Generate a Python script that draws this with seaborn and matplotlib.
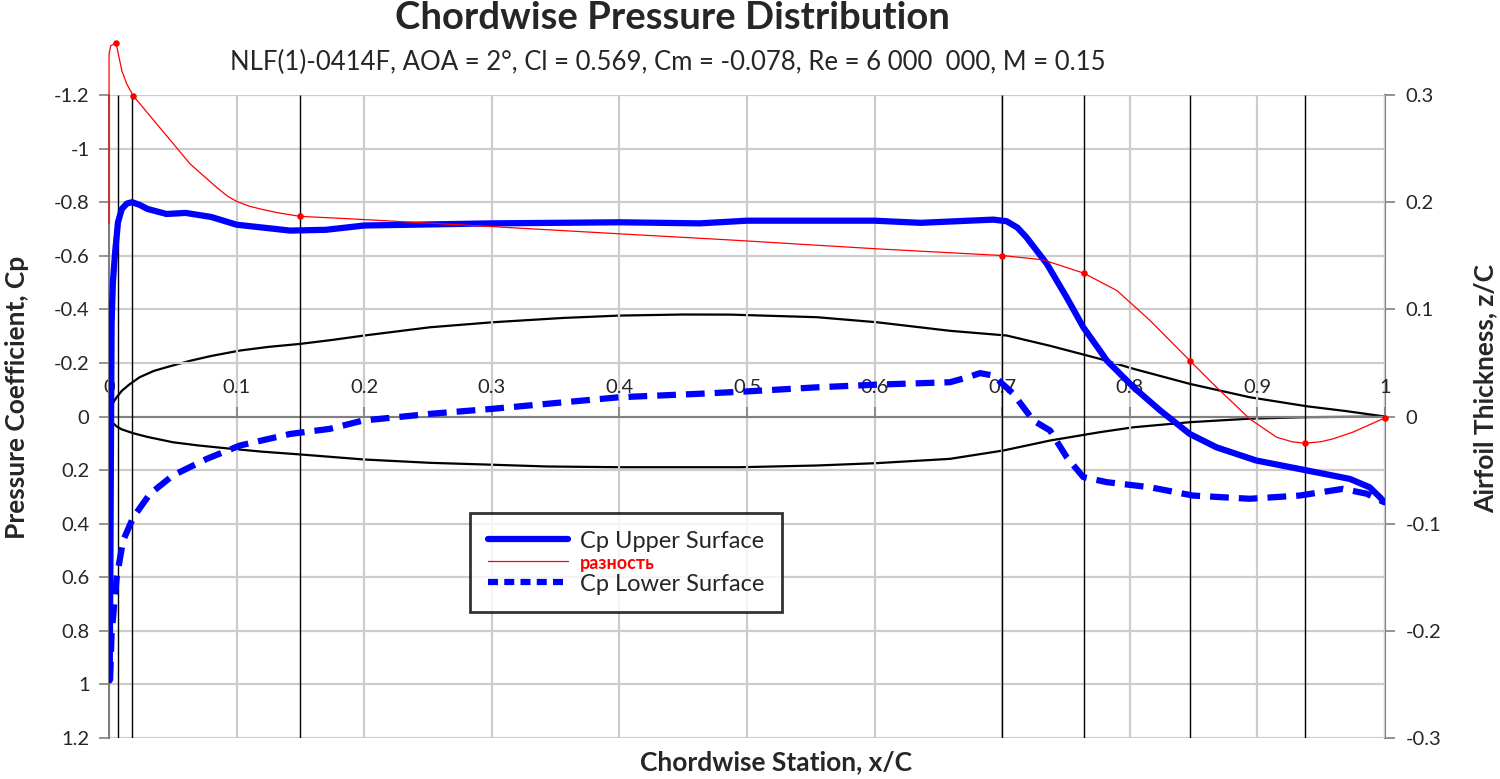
import numpy as np
import pandas as pd
import matplotlib
matplotlib.use("Agg")
import matplotlib.pyplot as plt
import seaborn as sns
from matplotlib.lines import Line2D
from matplotlib.ticker import MultipleLocator, FormatStrFormatter

# values
x_up = [0.0005, 0.001, 0.0015, 0.002, 0.003, 0.0047, 0.007, 0.01, 0.014, 0.018, 0.024, 0.03, 0.045,
        0.06, 0.08, 0.1, 0.142, 0.17, 0.2, 0.3, 0.4, 0.463, 0.5, 0.6, 0.636, 0.693, 0.7035, 0.712,
        0.719, 0.735, 0.7505, 0.7636, 0.7766, 0.782, 0.803, 0.824, 0.847, 0.868, 0.899, 0.9386,
        0.9726, 0.988, 0.996, 0.9995]
cp_up = [0.985, 0.6, 0.1, -0.35, -0.5, -0.61, -0.725, -0.775, -0.795, -0.80, -0.79, -0.775, -0.756,
         -0.76, -0.745, -0.716, -0.694, -0.697, -0.713, -0.721, -0.725, -0.721, -0.731, -0.731,
         -0.723, -0.735, -0.729, -0.705, -0.669, -0.57, -0.445, -0.333, -0.246, -0.209, -0.109,
         -0.022, 0.065, 0.115, 0.164, 0.201, 0.233, 0.264, 0.301, 0.32]

x_lo = [0.0008, 0.002, 0.006, 0.011, 0.019, 0.032, 0.05, 0.0766, 0.1027, 0.142, 0.173, 0.199, 0.2516,
        0.301, 0.356, 0.4, 0.463, 0.501, 0.5546, 0.6016, 0.659, 0.672, 0.6826, 0.693, 0.7087, 0.7244,
        0.7375, 0.7506, 0.7636, 0.782, 0.816, 0.8495, 0.894, 0.933, 0.967, 0.9856, 0.9995]
cp_lo = [0.985, 0.81, 0.60, 0.463, 0.376, 0.289, 0.22, 0.158, 0.108, 0.065, 0.046, 0.015, -0.01,
         -0.029, -0.053, -0.072, -0.085, -0.094, -0.109, -0.119, -0.128, -0.145, -0.162, -0.153,
         -0.085, 0.015, 0.052, 0.152, 0.226, 0.245, 0.264, 0.295, 0.307, 0.295, 0.27, 0.288, 0.32]

x_diff = [0.0, 0.0, 0.0013, 0.0055, 0.01, 0.0139, 0.019, 0.0374, 0.0504, 0.0635, 0.0844, 0.093, 0.1,
          0.11, 0.121, 0.133, 0.15, 0.189, 0.3, 0.4, 0.487, 0.6016, 0.70, 0.732, 0.764, 0.79, 0.816,
          0.847, 0.868, 0.88, 0.894, 0.915, 0.927, 0.937, 0.95, 0.9595, 0.975, 1.0]
cp_diff = [-0.719, -1.353, -1.384, -1.394, -1.291, -1.241, -1.197, -1.092, -1.018, -0.943, -0.855,
           -0.822, -0.803, -0.785, -0.772, -0.760, -0.747, -0.738, -0.709, -0.682, -0.659, -0.626,
           -0.601, -0.585, -0.535, -0.47, -0.358, -0.209, -0.109, -0.055, 0.0087, 0.077, 0.094, 0.0995,
           0.094, 0.083, 0.058, 0.005]
x_diff_pts = [0.0055, 0.019, 0.15, 0.70, 0.764, 0.847, 0.937, 1.0]
cp_diff_pts = [-1.394, -1.197, -0.747, -0.601, -0.535, -0.209, 0.0995, 0.005]
x_drop = [0.0073, 0.018, 0.15, 0.70, 0.764, 0.847, 0.937]

x_af_up = [0.0, 0.0005, 0.002, 0.004, 0.006, 0.01, 0.016, 0.024, 0.035, 0.045, 0.0635, 0.08, 0.1027,
           0.125, 0.15, 0.175, 0.2, 0.2516, 0.301, 0.356, 0.4, 0.45, 0.487, 0.5546, 0.6016, 0.659,
           0.7035, 0.7375, 0.7766, 0.803, 0.847, 0.894, 0.9386, 0.97, 1.0]
z_af_up = [0.0, 0.005, 0.010, 0.0145, 0.018, 0.024, 0.030, 0.0367, 0.0425, 0.046, 0.052, 0.0565,
           0.0616, 0.065, 0.0678, 0.0715, 0.0756, 0.0833, 0.088, 0.092, 0.0942, 0.0952, 0.0951,
           0.0927, 0.088, 0.080, 0.0756, 0.066, 0.0538, 0.0445, 0.0305, 0.018, 0.0096, 0.005, 0.0]
x_af_lo = [0.0, 0.002, 0.006, 0.01, 0.019, 0.03, 0.05, 0.07, 0.095, 0.12, 0.15, 0.2, 0.2516, 0.301,
           0.343, 0.4, 0.4945, 0.5546, 0.6016, 0.659, 0.7009, 0.7375, 0.7766, 0.803, 0.847, 0.894,
           0.9386, 1.0]
z_af_lo = [0.0, -0.005, -0.0093, -0.012, -0.0156, -0.019, -0.024, -0.027, -0.030, -0.0328, -0.0354,
           -0.0401, -0.0432, -0.045, -0.0466, -0.0473, -0.0473, -0.0457, -0.0435, -0.0395, -0.0317,
           -0.0224, -0.0146, -0.01, -0.0053, -0.002, -0.0006, 0.0]

sns.set_style("white")
fonts = ["Lato", "Open Sans", "DejaVu Sans"]
plt.rcParams["font.family"] = fonts
plt.rcParams["axes.unicode_minus"] = False

fig = plt.figure(figsize=(15, 7.79), dpi=100)
ax = fig.add_axes([0.0727, 0.0526, 0.8506, 0.8254])
ax2 = ax.twinx()

blue = "#0000ff"
red = "#ff0000"

sns.lineplot(x=x_up, y=cp_up, ax=ax, color=blue, lw=4.5, sort=False, estimator=None, zorder=5)
sns.lineplot(x=x_lo, y=cp_lo, ax=ax, color=blue, lw=4.5, sort=False, estimator=None, zorder=5,
             dashes=False, linestyle=(0, (3.0, 1.6)))
sns.lineplot(x=x_diff, y=cp_diff, ax=ax, color=red, lw=0.9, sort=False, estimator=None, zorder=6,
             clip_on=False)
sns.scatterplot(x=x_diff_pts, y=cp_diff_pts, ax=ax, color=red, s=22, linewidth=0, zorder=7,
                clip_on=False)
ax.vlines(x_drop, -1.2, 1.2, color="black", lw=1, zorder=3)

sns.lineplot(x=x_af_up, y=z_af_up, ax=ax2, color="black", lw=1.6, sort=False, estimator=None)
sns.lineplot(x=x_af_lo, y=z_af_lo, ax=ax2, color="black", lw=1.6, sort=False, estimator=None)

# primary axis
ax.set_xlim(0, 1)
ax.set_ylim(1.2, -1.2)
ax.yaxis.set_major_locator(MultipleLocator(0.2))
ax.yaxis.set_major_formatter(FormatStrFormatter("%g"))
ax.xaxis.set_major_locator(MultipleLocator(0.1))
ax.xaxis.set_major_formatter(FormatStrFormatter("%g"))
ax.grid(True, color="#cccccc", lw=1.6)
ax.set_axisbelow(True)
for s in ["bottom", "right"]:
    ax.spines[s].set_visible(False)
ax.spines["left"].set_color("#808080")
ax.spines["left"].set_linewidth(1.5)
ax.spines["top"].set_position(("data", 0))
ax.spines["top"].set_color("#808080")
ax.spines["top"].set_linewidth(1.5)
ax.xaxis.tick_top()
ax.tick_params(axis="x", direction="out", length=7, width=1.2, color="#808080", pad=8,
               labelsize=14.5)
ax.tick_params(axis="y", direction="out", length=7, width=1.2, color="#808080", pad=7,
               labelsize=14.5, left=True)
ax.set_xlabel("")
ax.set_ylabel("Pressure Coefficient, Cp", fontsize=19, fontweight="bold")
ax.yaxis.set_label_coords(-0.0627, 0.530)

# secondary axis
ax2.set_ylim(-0.3, 0.3)
ax2.yaxis.set_major_locator(MultipleLocator(0.1))
ax2.yaxis.set_minor_locator(MultipleLocator(0.05))
ax2.yaxis.set_major_formatter(FormatStrFormatter("%g"))
for s in ["top", "bottom", "left"]:
    ax2.spines[s].set_visible(False)
ax2.spines["right"].set_color("#808080")
ax2.spines["right"].set_linewidth(1.5)
ax2.tick_params(axis="y", which="major", direction="out", length=7, width=1.2, color="#808080",
                pad=8, labelsize=14.5, right=True)
ax2.tick_params(axis="y", which="minor", direction="in", length=5, width=1.2, color="#808080",
                right=True)
ax2.set_ylabel("Airfoil Thickness, z/C", fontsize=19, fontweight="bold")
ax2.yaxis.set_label_coords(1.069, 0.544)
ax2.grid(False)
ax.set_zorder(ax2.get_zorder() + 1)
ax.patch.set_visible(False)

fig.text(776 / 1500, 1 - 762 / 779, "Chordwise Station, x/C", ha="center", va="center",
         fontsize=19, fontweight="bold")
fig.text(672 / 1500, 1 - 18 / 779, "Chordwise Pressure Distribution", ha="center", va="center",
         fontsize=27.5, fontweight="bold")
fig.text(668 / 1500, 1 - 62 / 779, "NLF(1)-0414F, AOA = 2°, Cl = 0.569, Cm = -0.078, Re = 6 000  000, M = 0.15",
         ha="center", va="center", fontsize=18.5)

handles = [Line2D([], [], color=blue, lw=4.5),
           Line2D([], [], color=red, lw=0.9),
           Line2D([], [], color=blue, lw=4.5, linestyle=(0, (1.6, 1.0)))]
leg = ax.legend(handles, ["Cp Upper Surface", "разность", "Cp Lower Surface"],
                loc="upper left", bbox_to_anchor=(0.283, 0.35), fontsize=17, frameon=True,
                fancybox=False, edgecolor="black", handlelength=3.4, labelspacing=0.05,
                borderpad=0.75, handletextpad=0.5, borderaxespad=0)
leg.get_frame().set_linewidth(2)
t = leg.get_texts()[1]
t.set_color(red)
t.set_fontsize(13)
t.set_fontweight("bold")

fig.savefig("out.png", dpi=100)
